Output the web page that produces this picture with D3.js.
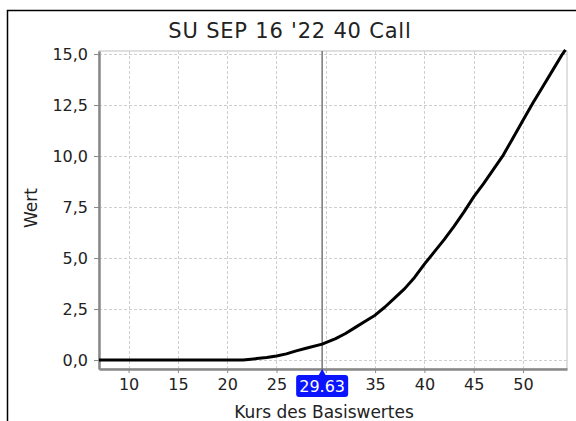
<!DOCTYPE html>
<html>
<head>
<meta charset="utf-8">
<script src="https://cdn.jsdelivr.net/npm/d3@7"></script>
<style>
  html, body { margin: 0; padding: 0; background: #fff; }
  svg { display: block; font-family: "DejaVu Sans", Verdana, sans-serif; }
</style>
</head>
<body>
<svg id="chart" width="576" height="421"></svg>
<script>
const width = 576;
const height = 421;

// underlying price vs. option value
const kurs = [7, 10, 15, 20, 21.6, 23, 24, 25, 26, 27, 28, 29.63, 30, 31, 32, 33, 34, 35, 36, 37, 38, 39, 40,
  41, 42, 43, 44, 45, 46, 47, 48, 49, 50, 51, 52, 53, 54, 54.3];
const wert = [0, 0, 0, 0, 0, 0.07, 0.12, 0.2, 0.3, 0.45, 0.58, 0.78, 0.85, 1.05, 1.3, 1.6, 1.9, 2.2, 2.6, 3.05, 3.5, 4.05, 4.7,
  5.3, 5.9, 6.55, 7.25, 8.0, 8.65, 9.35, 10.05, 10.9, 11.75, 12.6, 13.4, 14.2, 15.0, 15.2];

const xTicks = [10, 15, 20, 25, 30, 35, 40, 45, 50];
const yTicks = [0, 2.5, 5, 7.5, 10, 12.5, 15];
const current = 29.63;
const title = "SU SEP 16 '22 40 Call";

const plot = { left: 99, top: 51, right: 567, bottom: 369 };

const x = d3.scaleLinear().domain([7, 54.46]).range([plot.left, plot.right]);
const y = d3.scaleLinear().domain([-0.44, 15.15]).range([plot.bottom, plot.top]);

const svg = d3.select("#chart");
const fmt = d => d.toFixed(1).replace(".", ",");

// outer frame
svg.append("path")
    .attr("d", `M7.5,${height} V10.5 H${width}`)
    .attr("fill", "none").attr("stroke", "#000").attr("stroke-width", 1.5);

svg.append("text")
    .attr("x", 290).attr("y", 38)
    .attr("text-anchor", "middle")
    .attr("font-size", 21).attr("letter-spacing", 0.8).attr("fill", "#222")
    .text(title);

// plot border
svg.append("rect")
    .attr("x", plot.left).attr("y", plot.top)
    .attr("width", plot.right - plot.left).attr("height", plot.bottom - plot.top)
    .attr("fill", "#fff").attr("stroke", "#c0c0c0");

// grid
svg.append("g").selectAll("line").data(xTicks).join("line")
    .attr("x1", d => Math.round(x(d)) + 0.5).attr("x2", d => Math.round(x(d)) + 0.5)
    .attr("y1", plot.top).attr("y2", plot.bottom)
    .attr("stroke", "#cfcfcf").attr("stroke-dasharray", "3,2");
svg.append("g").selectAll("line").data(yTicks).join("line")
    .attr("y1", d => Math.round(y(d)) + 0.5).attr("y2", d => Math.round(y(d)) + 0.5)
    .attr("x1", plot.left).attr("x2", plot.right)
    .attr("stroke", "#cfcfcf").attr("stroke-dasharray", "3,2");

// axes
const yAxis = svg.append("g")
    .attr("transform", `translate(${plot.left},0)`)
    .call(d3.axisLeft(y).tickValues(yTicks).tickFormat(fmt).tickSize(5).tickSizeOuter(0).tickPadding(6));
const xAxis = svg.append("g")
    .attr("transform", `translate(0,${plot.bottom})`)
    .call(d3.axisBottom(x).tickValues(xTicks).tickFormat(d3.format("d")).tickSize(4).tickSizeOuter(0).tickPadding(6));

[yAxis, xAxis].forEach(g => {
  g.select(".domain").attr("stroke", "#888").attr("stroke-width", 2.5);
  g.selectAll(".tick line").attr("stroke", "#888");
  g.selectAll(".tick text").attr("fill", "#222").attr("font-size", 16)
      .attr("font-family", "DejaVu Sans, Verdana, sans-serif");
});
xAxis.selectAll(".tick").filter(d => d === 30).select("text").remove();

// current price marker
svg.append("line")
    .attr("x1", x(current)).attr("x2", x(current))
    .attr("y1", plot.top).attr("y2", plot.bottom)
    .attr("stroke", "#777").attr("stroke-width", 1.5);

// curve
svg.append("path")
    .datum(kurs.map((k, i) => [k, wert[i]]))
    .attr("fill", "none").attr("stroke", "#000").attr("stroke-width", 3)
    .attr("stroke-linejoin", "round")
    .attr("d", d3.line().x(d => x(d[0])).y(d => y(d[1])));

// highlighted label
const cx = x(current);
const lab = svg.append("g");
lab.append("rect")
    .attr("x", cx - 26).attr("y", 375).attr("width", 52).attr("height", 22)
    .attr("rx", 3).attr("fill", "#0a14ff");
lab.append("path")
    .attr("d", `M${cx - 4},376 L${cx},369 L${cx + 4},376 Z`)
    .attr("fill", "#0a14ff");
lab.append("text")
    .attr("x", cx).attr("y", 392)
    .attr("text-anchor", "middle").attr("font-size", 16).attr("fill", "#fff")
    .text(current.toFixed(2));

// axis titles
svg.append("text")
    .attr("transform", "translate(37,208) rotate(-90)")
    .attr("text-anchor", "middle").attr("font-size", 17).attr("fill", "#222")
    .text("Wert");
svg.append("text")
    .attr("x", 324).attr("y", 418)
    .attr("text-anchor", "middle").attr("font-size", 17).attr("fill", "#222")
    .text("Kurs des Basiswertes");
</script>
</body>
</html>
